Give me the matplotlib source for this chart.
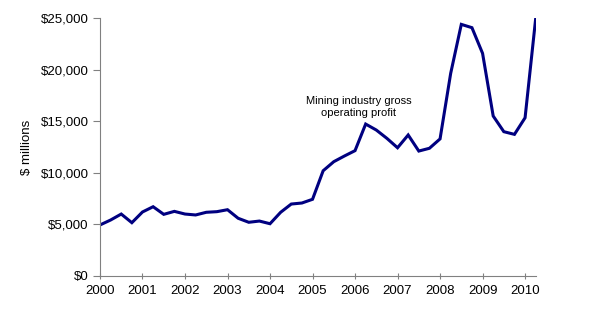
import numpy as np
import matplotlib.pyplot as plt
from matplotlib.ticker import FuncFormatter

plt.rcParams['font.family'] = ['Liberation Sans', 'DejaVu Sans']

# quarterly gross operating profit, $ millions, 2000 Q1 to 2010 Q2
profit = [4950, 5430, 6010, 5170, 6210, 6720, 5980, 6270,
          6010, 5920, 6180, 6240, 6430, 5600, 5210, 5330,
          5070, 6180, 6980, 7080, 7440, 10210, 11090, 11640,
          12160, 14740, 14160, 13350, 12440, 13680, 12120, 12390,
          13300, 19660, 24410, 24090, 21600, 15520, 14000, 13740,
          15350, 25000]
quarters = 2000 + np.arange(len(profit)) / 4
years = list(range(2000, 2011))

fig = plt.figure(figsize=(6.1, 3.25), dpi=100)
ax = fig.add_axes([0.1639, 0.1508, 0.7143, 0.7929])

ax.plot(quarters, profit, color='#000080', lw=2.2, solid_joinstyle='miter')

ax.set_xlim(2000, 2000 + (len(profit) - 1) / 4)
ax.set_ylim(0, 25000)
ax.set_yticks(np.arange(0, 25001, 5000))
ax.yaxis.set_major_formatter(FuncFormatter(lambda v, p: '${:,.0f}'.format(v)))
ax.set_xticks(years)
ax.set_xticklabels([str(y) for y in years])

for s in ['top', 'right']:
    ax.spines[s].set_visible(False)
ax.spines['left'].set_color('#808080')
ax.spines['bottom'].set_color('#808080')
ax.tick_params(axis='y', direction='out', length=5, color='#808080', labelsize=9.5, pad=3)
ax.tick_params(axis='x', direction='inout', length=5, color='#808080', labelsize=9.5, pad=4)

ax.set_ylabel('$ millions', fontsize=9.5, labelpad=6)

ax.text(2006.08, 16400, 'Mining industry gross\noperating profit',
        ha='center', va='center', fontsize=8, linespacing=1.2)

fig.savefig('out.png', dpi=100)
